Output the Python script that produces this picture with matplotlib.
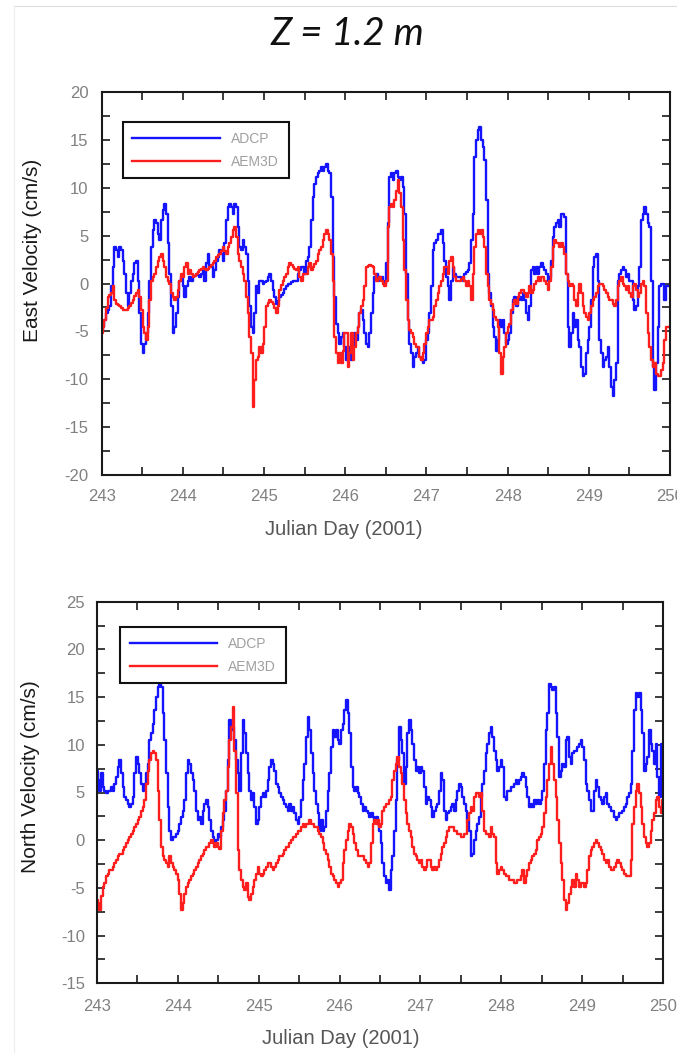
import numpy as np
import matplotlib
matplotlib.use("Agg")
import matplotlib.pyplot as plt
from matplotlib.lines import Line2D
from matplotlib.ticker import MultipleLocator

plt.rcParams["axes.unicode_minus"] = False

# ---------------- data (~30-min samples over days 243-250) ----------------
east_adcp = [
    -4.9, -4.5, -3.8, -3.1, -2.8, -2.4, -0.3, 1.7, 3.8, 3.5, 2.8, 3.8, 3.5, 2.4, 1.0, -1.0, -2.4, -1.0, 0.3, 1.0,
    2.1, 2.3, 0.3, -3.1, -6.3, -7.3, -6.3, -5.2, -3.1, 0.3, 3.8, 5.6, 6.6, 6.3, 5.2, 4.5, 6.6, 7.7, 8.3, 7.3,
    4.2, 1.0, -2.4, -5.2, -4.5, -3.1, -1.4, 0.3, 0.7, -0.3, -1.4, -0.3, 0.3, 0.7, 0.3, 0.7, 0.8, 1.0, 0.9, 0.7,
    1.0, 1.4, 0.3, 2.1, 3.1, 1.7, 1.7, 0.7, 1.4, 2.4, 2.8, 3.5, 3.1, 2.4, 4.2, 6.6, 8.0, 8.3, 8.0, 7.3,
    8.3, 8.0, 5.9, 3.8, 3.5, 4.5, 3.8, 3.1, 0.3, -2.4, -4.5, -5.2, -3.1, -0.3, -1.0, 0.3, 0.3, 0.0, 0.2, 0.3,
    0.7, 1.0, 0.3, -0.7, -1.4, -2.1, -1.8,
    -1.4, -1.2, -1.0, -0.6, -0.3, -0.1, 0.0, 0.2, 0.3, 0.3, 0.3, 1.0, 1.4, 1.7, 1.7, 1.0, 2.4, 2.8, 3.8, 6.6,
    9.0, 10.4, 11.1, 11.5, 11.8, 12.2, 11.8, 12.2, 12.5, 11.8, 11.5, 9.0, 2.8, -1.4, -4.2, -5.2, -6.3, -5.6, -5.2, -6.6,
    -8.0, -7.3, -6.6, -8.0, -6.6, -5.2, -5.9, -4.5, -3.1, -2.8, -3.8, -5.2, -6.3, -6.6, -5.2, -3.1, -1.0, 0.7, 1.0, 0.3,
    0.7, 0.7, 0.3, 0.0, 2.1, 6.3, 11.1, 11.5, 10.8, 11.5, 11.8, 11.1, 10.8, 11.1, 10.1, 7.3, 1.0, -3.8, -6.3, -7.3,
    -8.7, -7.7, -7.3, -6.6, -7.7, -8.0, -8.3, -8.0, -5.9, -5.2, -3.1, -0.3, 3.5, 4.2, 4.5, 5.2, 5.2, 5.6, 4.2, 2.4,
    0.7, -0.3, -1.7, 0.3, 1.7, 1.0, 0.7, 0.7, 0.7, 0.5, 0.3, 1.0, 1.2, 1.4,
    2.1, 4.5, 7.3, 13.2, 15.0, 16.0, 16.3, 15.0, 14.3, 12.9, 8.7, 1.0, -1.0, -2.4, -4.5, -5.6, -7.0, -5.9, -3.8, -4.5,
    -3.8, -5.2, -6.3, -5.9, -5.2, -3.1, -1.7, -1.4, -2.4, -1.7, -1.4, -1.7, -1.0, -1.7, -3.1, -3.8, -2.4, 1.4, 1.7, 1.0,
    1.7, 1.0, 1.7, 2.1, 1.7, 1.4, 1.0, 0.3, 0.7, 2.4, 4.9, 5.9, 6.3, 6.6, 5.9, 7.3, 7.3, 6.9, 1.0, -4.5,
    -6.6, -5.2, -3.1, -4.5, -3.8, -5.9, -6.6, -8.7, -9.7, -9.4, -7.3, -5.9, -4.5, -1.7, 1.7, 2.8, 3.1, 0.3, -5.9, -7.3,
    -8.7, -8.0, -7.7, -6.6, -8.7, -10.8, -11.8, -10.1, -8.3, 0.3, 1.0, 1.4, 1.7, 1.4, 0.7, 1.0, 0.3, 0.3, -1.7, -2.8,
    -2.4, -0.3, 1.7, 6.6, 7.3, 8.0, 7.3, 6.3, 5.9, 0.3, -8.7, -11.1, -8.3, -4.5, -0.3, 0.0, 0.0, -1.7, -0.3, -0.3,
    -0.3,
]

east_aem3d = [
    -5.2, -4.5, -3.8, -2.6, -1.4, -1.2, -1.0, -0.3, -1.7, -2.1, -2.2, -2.4, -2.6, -2.8, -2.8, -2.8, -2.6, -2.4, -2.0, -1.7,
    -1.3, -1.0, -0.7, -1.4, -2.8, -4.5, -5.2, -5.9, -4.5, -1.7, 0.3, 0.7, 1.0, 1.7, 2.4, 2.8, 3.1, 2.4, 1.7, 0.7,
    0.3, 0.0, -1.0, -1.4, -1.7, -1.4, -0.7, 0.3, 1.0, 0.7, 1.7, 2.1, 1.0, 1.4, 1.0, 0.7, 0.8, 1.0, 1.2, 1.4,
    1.5, 1.7, 1.5, 1.4, 1.5, 1.7, 1.9, 2.1, 2.4, 2.8, 3.0, 3.1, 3.4, 3.8, 3.4, 3.1, 3.8, 4.2, 4.9, 5.6,
    5.9, 4.9, 3.1, 2.4, 1.7, 1.0, 0.3, -1.4, -3.1, -5.6, -7.3, -12.9, -10.1, -8.0, -7.7, -6.6, -7.3, -6.3, -4.5, -2.4,
    -2.0, -1.7, -1.9, -2.1, -2.6, -3.1, -2.4,
    -0.7, -0.2, 0.3, 0.7, 1.0, 1.7, 2.1, 1.9, 1.7, 1.5, 1.4, 1.7, 0.7, 0.3, 1.0, 1.0, 1.0, 1.7, 2.1, 1.4,
    1.7, 2.0, 2.4, 3.1, 3.5, 3.8, 4.5, 5.2, 5.6, 5.2, 4.5, 3.1, 0.3, -5.6, -7.3, -8.3, -7.3, -8.3, -7.0, -5.2,
    -5.2, -8.7, -7.3, -5.2, -8.0, -6.6, -5.2, -4.5, -3.1, -2.4, -1.7, -0.3, 1.7, 1.8, 1.9, 1.8, 1.7, 1.0, 0.3, 0.5,
    0.7, 0.3, 0.0, -0.3, 0.3, 5.9, 8.0, 8.3, 8.0, 8.7, 9.7, 10.8, 9.4, 8.0, 4.5, 1.4, -1.7, -3.8, -4.9, -5.2,
    -5.6, -6.3, -6.6, -6.6, -7.7, -8.0, -7.3, -6.3, -5.2, -4.5, -3.8, -3.8, -3.5, -2.4, -1.7, -1.0, -0.3, 0.3, 1.0, 1.7,
    1.7, 1.0, 2.4, 2.8, 1.7, 0.7, 0.3, 0.3, 0.3, 0.5, 0.7, 0.3, -0.3, 0.3,
    -0.3, -1.7, 1.0, 3.8, 5.2, 5.6, 5.2, 5.6, 4.9, 3.8, 1.0, -0.3, -1.7, -2.1, -2.8, -3.5, -3.8, -4.5, -7.3, -9.4,
    -7.7, -6.6, -5.2, -4.5, -4.2, -2.8, -2.1, -1.7, -2.1, -1.4, -1.0, -0.7, -0.7, -1.0, -1.4, -1.0, -0.3, -1.0, -0.7, 0.0,
    0.3, 0.7, 0.3, 0.7, 0.7, 0.3, 0.0, -0.7, 0.3, 1.7, 3.8, 4.5, 4.2, 4.2, 3.8, 4.2, 3.8, 3.1, 1.0, 0.3,
    -0.3, 0.0, -0.3, -1.7, -2.4, -1.0, 0.0, -1.0, -2.4, -3.1, -3.5, -3.8, -3.1, -2.4, -1.7, -1.4, -1.0, -0.3, 0.0, 0.0,
    -0.3, -0.7, -1.0, -1.4, -1.7, -1.7, -2.1, -2.4, -1.7, -0.3, 0.3, 0.7, 0.0, -0.3, -0.7, -0.3, -1.0, -1.4, -0.3, 0.0,
    -0.7, -1.4, -1.0, 0.0, 0.3, -0.3, -3.1, -5.2, -6.6, -8.0, -8.7, -8.3, -9.4, -9.7, -9.7, -9.0, -8.3, -5.9, -4.5, -4.5,
    -4.5,
]

north_adcp = [
    7.3, 6.3, 5.2, 7.0, 5.6, 5.2, 4.9, 5.2, 5.2, 5.6, 5.2, 5.9, 6.6, 7.7, 8.4, 7.0, 5.6, 4.5, 4.2, 3.8,
    3.5, 3.8, 4.5, 7.0, 8.7, 8.0, 7.0, 5.9, 5.2, 5.9, 7.0, 8.0, 10.5, 11.2, 12.2, 13.6, 15.0, 16.1, 17.1, 16.1,
    13.3, 10.5, 7.0, 3.5, 1.0, 0.0, 0.3, 0.3, 0.7, 1.0, 1.7, 2.4, 3.1, 4.2, 7.0, 8.4, 8.0, 7.0, 6.3, 5.2,
    3.1, 2.1, 2.4, 1.7, 3.1, 3.8, 4.2, 3.5, 2.1, 1.0, 0.3, -0.3, 0.0, 0.7, 0.3, 1.4, 2.1, 3.1, 5.2, 8.4,
    12.6, 11.5, 11.9, 10.5, 8.4, 7.0, 5.2, 9.1, 12.6, 11.2, 9.1, 7.0, 5.2, 4.2, 4.9, 3.5, 1.7, 2.1, 3.5, 4.5,
    4.9, 4.5, 5.2, 6.3, 7.7, 8.4, 8.0, 7.3, 5.9, 5.6, 4.9, 4.5, 4.2, 3.8, 3.5, 3.1,
    3.8, 3.1, 3.5, 2.8, 2.1, 1.7, 2.4, 4.2, 6.3, 8.0, 10.8, 12.9, 11.5, 9.1, 7.0, 5.2, 3.8, 2.8, 1.0, 2.1,
    1.0, 1.4, 3.1, 5.2, 7.0, 9.8, 11.5, 10.8, 11.5, 10.5, 10.1, 11.5, 12.2, 13.6, 14.7, 13.3, 11.2, 7.7, 5.6, 5.2,
    5.6, 4.9, 4.5, 3.8, 3.1, 3.5, 3.1, 2.8, 2.4, 2.8, 2.4, 2.1, 2.4, 1.7, 1.0, -0.3, -2.4, -3.8, -4.5, -4.2,
    -5.2, -3.1, -1.7, 1.0, 4.2, 8.4, 11.9, 10.5, 9.1, 5.9, 7.7, 11.2, 12.6, 11.5, 10.1, 8.4, 7.3, 7.7, 7.0, 7.7,
    7.3, 5.6, 3.8, 4.5, 4.2, 3.5, 2.4, 3.1, 3.5, 3.8, 5.2, 7.0, 6.3, 3.1, 2.1, 2.8, 3.1, 3.5, 3.8, 3.1,
    4.2, 5.2, 5.9, 5.6, 4.5, 3.8, 3.1, 2.1, 1.0, -1.7,
    -1.4, 0.0, 1.0, 1.7, 2.4, 4.5, 5.9, 7.3, 9.1, 10.1, 11.2, 11.9, 10.8, 9.4, 8.4, 7.3, 7.7, 8.4, 7.7, 4.5,
    4.2, 5.2, 5.2, 5.6, 5.6, 5.9, 6.3, 5.9, 6.3, 6.6, 7.0, 6.6, 5.6, 4.5, 3.5, 3.8, 3.5, 4.2, 3.8, 4.2,
    3.8, 4.2, 5.2, 8.0, 11.5, 13.3, 16.4, 16.1, 15.7, 16.1, 13.3, 10.8, 6.6, 7.3, 8.0, 7.7, 10.5, 10.8, 8.7, 8.0,
    9.1, 9.4, 9.4, 9.8, 10.1, 10.5, 9.8, 8.4, 5.9, 5.2, 4.2, 3.1, 3.1, 5.2, 6.3, 5.6, 4.5, 4.2, 3.8, 4.5,
    4.9, 3.8, 3.5, 3.1, 3.1, 2.4, 2.1, 2.4, 2.8, 2.8, 3.1, 3.5, 3.8, 4.5, 4.9, 5.9, 9.4, 13.6, 15.4, 15.0,
    15.4, 13.6, 11.2, 7.3, 8.0, 8.7, 11.5, 10.1, 9.4, 8.0, 10.1, 6.6, 4.5, 10.1, 9.8,
]

north_aem3d = [
    -6.3, -6.6, -7.3, -5.9, -4.9, -4.5, -3.8, -3.5, -3.1, -3.1, -2.8, -2.4, -2.1, -1.7, -1.4, -1.4, -1.0, -0.7, -0.3, 0.0,
    0.3, 0.7, 1.0, 1.4, 1.7, 2.1, 2.4, 3.1, 3.5, 4.2, 5.9, 7.3, 8.4, 9.1, 9.4, 9.1, 8.4, 5.2, 2.1, -0.7,
    -1.7, -2.1, -2.4, -2.8, -1.7, -2.4, -2.8, -3.1, -3.5, -4.2, -5.6, -7.3, -6.6, -5.6, -4.9, -4.5, -4.2, -3.8, -3.5, -3.1,
    -2.8, -2.4, -2.1, -1.7, -1.4, -1.0, -0.7, -0.7, -0.3, 0.0, -0.3, -0.7, -0.3, -0.7, -0.9, 1.0, 2.8, 4.2, 5.2, 7.7,
    10.5, 11.9, 14.0, 9.4, 4.9, -1.0, -3.1, -4.2, -4.9, -5.2, -4.5, -6.0, -6.3, -5.6, -4.9, -4.2, -3.5, -2.8, -3.5, -3.8,
    -3.5, -3.1, -2.8, -2.4, -2.4, -2.8, -3.1, -2.8, -2.4, -2.1, -1.7, -1.7, -1.4, -1.0, -0.7, -0.7,
    -0.3, 0.0, 0.3, 0.3, 0.7, 1.0, 1.0, 1.4, 1.7, 1.4, 1.7, 1.7, 2.1, 1.7, 1.7, 1.4, 1.4, 1.0, 0.7, 0.3,
    -0.3, -1.0, -1.4, -2.1, -2.8, -3.5, -3.8, -4.2, -4.5, -4.9, -4.5, -4.2, -2.4, -1.0, 0.0, 1.0, 1.7, 1.4, 0.7, -0.3,
    -1.0, -1.7, -1.7, -1.7, -1.7, -2.1, -2.4, -2.8, -2.4, -0.3, 1.7, 2.1, 1.7, 2.1, 1.4, 1.7, 3.1, 3.5, 3.8, 3.8,
    4.2, 4.5, 6.3, 7.3, 8.0, 8.7, 7.7, 7.0, 5.9, 4.2, 2.8, 1.7, 1.0, 0.3, -0.7, -1.4, -1.7, -2.1, -2.4, -2.1,
    -2.8, -3.1, -2.8, -2.1, -2.1, -2.8, -3.1, -2.8, -3.1, -2.8, -2.1, -1.4, -0.7, -0.3, 0.3, 1.0, 1.4, 1.4, 1.4, 1.0,
    1.0, 0.7, 0.7, 0.3, 0.3, 0.7, 0.7, 2.1, 2.8, 3.5,
    3.1, 4.5, 4.9, 4.9, 4.5, 4.9, 3.1, 1.0, 0.7, 0.7, 0.3, 1.4, 0.7, 0.3, -2.4, -3.5, -3.1, -2.8, -3.1, -3.5,
    -3.8, -3.8, -4.2, -4.2, -4.2, -4.5, -4.5, -4.2, -4.2, -3.8, -3.1, -4.5, -3.8, -3.1, -2.4, -2.1, -1.7, -1.4, -1.0, 0.0,
    0.3, 0.7, 1.4, 2.8, 4.5, 6.3, 8.0, 9.8, 8.0, 6.3, 4.5, 2.1, -0.3, -2.4, -4.2, -6.3, -7.3, -6.6, -5.6, -4.9,
    -4.2, -4.9, -3.5, -4.2, -4.9, -4.5, -4.5, -4.9, -4.5, -3.1, -1.7, -1.0, -0.7, -0.3, 0.0, -0.3, -0.7, -1.0, -1.4, -2.1,
    -2.4, -2.1, -2.8, -3.1, -3.1, -2.8, -2.4, -2.1, -2.4, -2.8, -3.1, -3.5, -3.8, -3.8, -3.8, -2.1, 1.7, 3.5, 5.2, 5.9,
    4.9, 3.5, 1.7, 0.3, -0.3, -0.7, -0.3, 1.0, 2.1, 2.8, 4.2, 4.5, 3.5, 2.8, 4.2,
]

day_start, day_end = 243, 250
x_ticks = [243, 244, 245, 246, 247, 248, 249, 250]
series_labels = ["ADCP", "AEM3D"]
title_text = "Z = 1.2 m"
xlabel_text = "Julian Day (2001)"
east_ylabel = "East Velocity (cm/s)"
north_ylabel = "North Velocity (cm/s)"

# ---------------- styling ----------------
BLUE = "#1414ff"
RED = "#ff1e1e"
TICK_GREY = "#808080"

fig = plt.figure(figsize=(6.77, 10.53), dpi=100)
fig.patch.set_facecolor("white")

# faint slide border lines
fig.add_artist(Line2D([14 / 677, 1.0], [1 - 6 / 1053, 1 - 6 / 1053], color="#dddddd", lw=0.8))
fig.add_artist(Line2D([14 / 677, 14 / 677], [0.0, 1 - 6 / 1053], color="#eeeeee", lw=0.8))

fig.text(347 / 677, 1 - 34 / 1053, title_text, ha="center", va="center",
         fontsize=27.5, style="italic", family=["Lato", "DejaVu Sans"], color="#111111")

ax1 = fig.add_axes([101.7 / 677, 1 - 475 / 1053, (670 - 101.7) / 677, (475 - 92) / 1053])
ax2 = fig.add_axes([96.7 / 677, 1 - 983.3 / 1053, (663.3 - 96.7) / 677, (983.3 - 601.7) / 1053])


def style_axes(ax, ylim, yticks, ypad, xpad):
    ax.set_xlim(day_start, day_end)
    ax.set_ylim(*ylim)
    ax.set_xticks(x_ticks)
    ax.xaxis.set_minor_locator(MultipleLocator(0.5))
    ax.set_yticks(yticks)
    ax.yaxis.set_minor_locator(MultipleLocator(2.5))
    for s in ax.spines.values():
        s.set_linewidth(1.5)
        s.set_color("#1a1a1a")
    ax.tick_params(which="both", direction="in", top=True, right=True,
                   length=6, width=1.2, color="#1a1a1a")
    ax.tick_params(axis="y", which="major", pad=ypad)
    ax.tick_params(axis="x", which="major", pad=xpad)
    for lab in ax.get_xticklabels() + ax.get_yticklabels():
        lab.set_fontfamily("Liberation Sans")
        lab.set_fontsize(12)
        lab.set_color(TICK_GREY)


def draw(ax, adcp, aem, leg_anchor):
    t1 = np.linspace(day_start, day_end, len(adcp))
    t2 = np.linspace(day_start, day_end, len(aem))
    ax.plot(t1, adcp, color=BLUE, lw=1.7, drawstyle="steps-mid", label=series_labels[0])
    ax.plot(t2, aem, color=RED, lw=1.7, drawstyle="steps-mid", label=series_labels[1])
    leg = ax.legend(loc="upper left", bbox_to_anchor=leg_anchor, borderaxespad=0,
                    fancybox=False, framealpha=1, edgecolor="#111111",
                    prop={"family": "Liberation Sans", "size": 10},
                    labelcolor="#a0a0a0", handlelength=6.3, handletextpad=0.8,
                    borderpad=0.7, labelspacing=0.65)
    leg.get_frame().set_linewidth(1.5)


draw(ax1, east_adcp, east_aem3d, (0.037, 0.922))
draw(ax2, north_adcp, north_aem3d, (0.041, 0.934))

style_axes(ax1, (-20, 20), [-20, -15, -10, -5, 0, 5, 10, 15, 20], 9.5, 10)
style_axes(ax2, (-15, 25), [-15, -10, -5, 0, 5, 10, 15, 20, 25], 8.5, 11)

for ax, ylab, ycoords, xcoords in [
    (ax1, east_ylabel, (-0.105, 0.587), (0.426, -0.118)),
    (ax2, north_ylabel, (-0.100, 0.541), (0.431, -0.12)),
]:
    ax.set_ylabel(ylab, fontsize=15, family="Liberation Sans", color="#1a1a1a")
    ax.yaxis.set_label_coords(*ycoords)
    ax.set_xlabel(xlabel_text, fontsize=14.5, family="Liberation Sans", color="#555555")
    ax.xaxis.set_label_coords(*xcoords)

fig.savefig("out.png", dpi=100)
